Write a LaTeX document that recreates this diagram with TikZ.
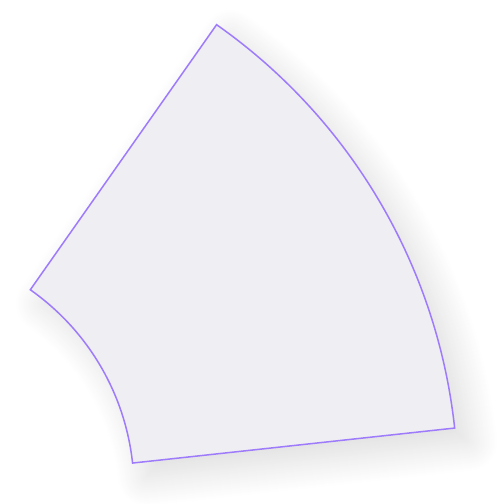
\documentclass[tikz,border=0pt]{standalone}
\usepackage{xcolor}
\usetikzlibrary{shadows.blur}

\definecolor{sectorfill}{HTML}{EFEEF3}
\definecolor{sectoredge}{HTML}{9E7BFB}

\tikzset{
    sector/.style={fill=sectorfill, draw=sectoredge, line width=1.5pt, line join=miter,
        blur shadow={shadow xshift=14pt, shadow yshift=-14pt, shadow blur radius=30pt,
            shadow blur steps=30, shadow opacity=14}}
}

\begin{document}
\begin{tikzpicture}[x=1pt, y=1pt]

% Frame of the whole picture
\useasboundingbox (0,0) rectangle (498,504);

% Ring sector: inner and outer radius, start and end angle
\def\rin{244}
\def\rout{568}
\def\angA{54.9}
\def\angB{6.2}

\begin{scope}[shift={(-110,14.6)}]
    \coordinate (hub) at (0,0);
    \draw[sector] (\angA:\rin) -- (\angA:\rout)
        arc[start angle=\angA, end angle=\angB, radius=\rout]
        -- (\angB:\rin)
        arc[start angle=\angB, end angle=\angA, radius=\rin]
        -- cycle;
\end{scope}

\end{tikzpicture}
\end{document}
